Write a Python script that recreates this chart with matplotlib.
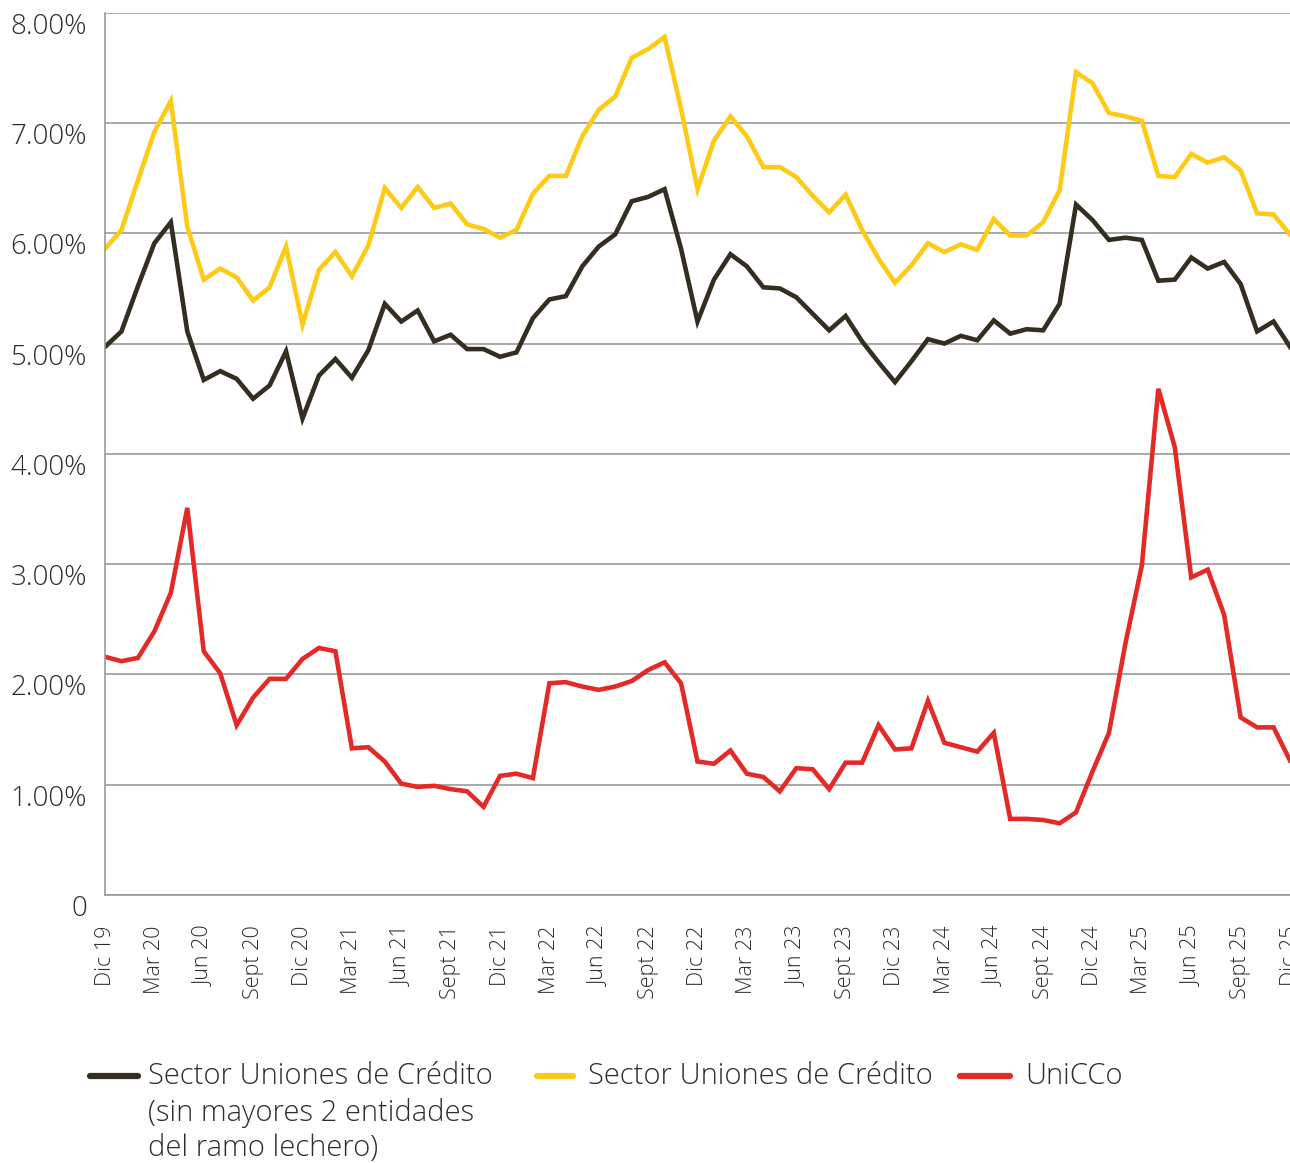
import matplotlib.pyplot as plt
from matplotlib.lines import Line2D

# Datos (porcentaje mensual, Dic 19 - Dic 25)
sector_sin_lecheros = [4.97, 5.11, 5.52, 5.91, 6.10, 5.11, 4.67, 4.75, 4.68, 4.50,
                       4.62, 4.93, 4.32, 4.71, 4.86, 4.69, 4.94, 5.36, 5.20, 5.30,
                       5.02, 5.08, 4.95, 4.95, 4.88, 4.92, 5.23, 5.40, 5.43, 5.70,
                       5.88, 5.99, 6.29, 6.33, 6.40, 5.86, 5.20, 5.58, 5.81, 5.70,
                       5.51, 5.50, 5.42, 5.27, 5.12, 5.25, 5.02, 4.83, 4.65, 4.84,
                       5.04, 5.00, 5.07, 5.03, 5.21, 5.09, 5.13, 5.12, 5.36, 6.26,
                       6.12, 5.94, 5.96, 5.94, 5.57, 5.58, 5.78, 5.68, 5.74, 5.54,
                       5.11, 5.20, 4.97]
sector_total = [5.86, 6.03, 6.48, 6.92, 7.20, 6.06, 5.58, 5.68, 5.60, 5.39,
                5.51, 5.88, 5.17, 5.67, 5.83, 5.61, 5.89, 6.41, 6.23, 6.42,
                6.23, 6.27, 6.08, 6.04, 5.96, 6.03, 6.36, 6.52, 6.52, 6.88,
                7.12, 7.24, 7.59, 7.67, 7.78, 7.13, 6.40, 6.84, 7.06, 6.88,
                6.60, 6.60, 6.51, 6.34, 6.19, 6.35, 6.03, 5.77, 5.55, 5.71,
                5.91, 5.83, 5.90, 5.85, 6.13, 5.98, 5.98, 6.10, 6.39, 7.46,
                7.36, 7.09, 7.06, 7.02, 6.52, 6.51, 6.72, 6.64, 6.69, 6.57,
                6.18, 6.17, 5.99]
unicco = [2.16, 2.12, 2.15, 2.39, 2.74, 3.51, 2.21, 2.01, 1.54, 1.79,
          1.96, 1.96, 2.14, 2.24, 2.21, 1.33, 1.34, 1.21, 1.01, 0.98,
          0.99, 0.96, 0.94, 0.80, 1.08, 1.10, 1.06, 1.92, 1.93, 1.89,
          1.86, 1.89, 1.94, 2.04, 2.11, 1.92, 1.21, 1.19, 1.31, 1.10,
          1.07, 0.94, 1.15, 1.14, 0.96, 1.20, 1.20, 1.54, 1.32, 1.33,
          1.76, 1.38, 1.34, 1.30, 1.47, 0.69, 0.69, 0.68, 0.65, 0.75,
          1.12, 1.47, 2.28, 2.99, 4.59, 4.06, 2.88, 2.95, 2.54, 1.61,
          1.52, 1.52, 1.22]

etiquetas_x = ["Dic 19", "Mar 20", "Jun 20", "Sept 20", "Dic 20", "Mar 21", "Jun 21",
               "Sept 21", "Dic 21", "Mar 22", "Jun 22", "Sept 22", "Dic 22", "Mar 23",
               "Jun 23", "Sept 23", "Dic 23", "Mar 24", "Jun 24", "Sept 24", "Dic 24",
               "Mar 25", "Jun 25", "Sept 25", "Dic 25"]
etiquetas_y = ["0", "1.00%", "2.00%", "3.00%", "4.00%", "5.00%", "6.00%", "7.00%", "8.00%"]

series = [
    ("Sector Uniones de Crédito\n(sin mayores 2 entidades\ndel ramo lechero)", sector_sin_lecheros, "#342e21"),
    ("Sector Uniones de Crédito", sector_total, "#fdcb17"),
    ("UniCCo", unicco, "#e42a27"),
]

plt.rcParams['font.family'] = ['Open Sans', 'DejaVu Sans']
plt.rcParams['font.weight'] = 'light'
texto = "#2e2e2e"
gris = "#9a9a9a"

fig = plt.figure(figsize=(12.9, 11.63), dpi=100)
ax = fig.add_axes([105 / 1290, 1 - 895 / 1163, 1 - 105 / 1290, (895 - 12.7) / 1163])

meses = list(range(len(unicco)))
# orden de dibujo: rojo, amarillo, negro
for nombre, valores, color in [series[2], series[1], series[0]]:
    ax.plot(meses, valores, color=color, lw=3.3, solid_joinstyle='miter')

ax.set_xlim(0, len(unicco) - 1)
ax.set_ylim(0, 8)
ax.set_yticks(range(9))
ax.set_yticklabels(etiquetas_y)
ax.set_xticks(range(0, len(unicco), 3))
ax.set_xticklabels(etiquetas_x, rotation=90, va='top', ha='center')
ax.tick_params(axis='y', length=0, pad=13, labelsize=20, labelcolor=texto)
ax.tick_params(axis='x', length=0, pad=22, labelsize=15.5, labelcolor=texto)
for lbl in ax.get_yticklabels():
    lbl.set_va('top')

ax.grid(axis='y', color=gris, lw=1.2)
ax.set_axisbelow(True)
for lado in ['top', 'right']:
    ax.spines[lado].set_visible(False)
for lado in ['left', 'bottom']:
    ax.spines[lado].set_color(gris)
    ax.spines[lado].set_linewidth(1.2)

# Leyenda manual (clave alineada con la primera línea del texto)
pos_leyenda = [(90, 138, 148), (537, 573, 588), (960, 1010, 1025)]
y_ley = 1 - 1076 / 1163
for (nombre, valores, color), (x0, x1, xt) in zip(series, pos_leyenda):
    fig.add_artist(Line2D([x0 / 1290, x1 / 1290], [y_ley, y_ley], color=color, lw=4.5,
                          solid_capstyle='round', transform=fig.transFigure))
    fig.text(xt / 1290, 1 - 1062 / 1163, nombre, fontsize=21, color=texto, va='top', ha='left',
             linespacing=1.27)

fig.savefig("out.png", dpi=100)
